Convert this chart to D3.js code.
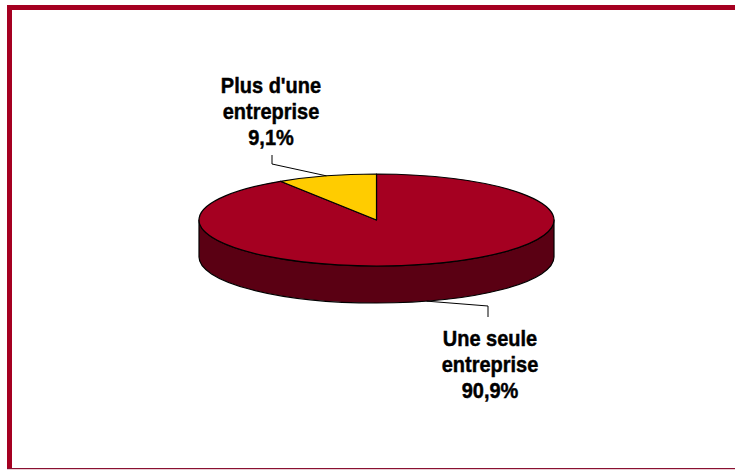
<!DOCTYPE html>
<html>
<head>
<meta charset="utf-8">
<script src="https://cdn.jsdelivr.net/npm/d3@7"></script>
<style>
  html, body { margin: 0; padding: 0; background: #fff; }
  svg { display: block; }
</style>
</head>
<body>
<svg id="chart" width="735" height="470"></svg>
<script>
// Share of respondents by number of companies
const categories = ["Une seule entreprise", "Plus d'une entreprise"];
const values = [90.9, 9.1];
const labelLines = [["Une seule", "entreprise", "90,9%"], ["Plus d'une", "entreprise", "9,1%"]];
const topColors = ["#A50021", "#FFCC00"];
const sideColors = ["#5A0013", "#B38F00"];

const svg = d3.select("#chart");
const W = 735, H = 470;
const frameColor = "#A50021";

// Frame: thick bars on the left and top, thin line at the bottom
svg.append("rect").attr("x", 7).attr("y", 5).attr("width", W - 7).attr("height", 5).attr("fill", frameColor);
svg.append("rect").attr("x", 7).attr("y", 5).attr("width", 5).attr("height", H - 6).attr("fill", frameColor);
svg.append("rect").attr("x", 7).attr("y", H - 2).attr("width", W - 7).attr("height", 1.2).attr("fill", "#8A1030");

// 3D pie geometry
const cx = 376.5, cy = 220, rx = 177.5, ry = 46, depth = 37;
const pt = (a, dy = 0) => [cx + rx * Math.sin(a), cy - ry * Math.cos(a) + dy];

const pie = d3.pie().sort(null).value(d => d);
const arcs = pie(values);

const g = svg.append("g");

// Side walls: only the front half (angles between PI/2 and 3PI/2) is visible
arcs.forEach((d, i) => {
  const a0 = Math.max(d.startAngle, Math.PI / 2);
  const a1 = Math.min(d.endAngle, 3 * Math.PI / 2);
  if (a1 <= a0) return;
  const p0 = pt(a0), p1 = pt(a1), q1 = pt(a1, depth), q0 = pt(a0, depth);
  const large = (a1 - a0) > Math.PI ? 1 : 0;
  const path = `M${p0}A${rx},${ry} 0 ${large} 1 ${p1}L${q1}A${rx},${ry} 0 ${large} 0 ${q0}Z`;
  g.append("path").attr("d", path)
    .attr("fill", sideColors[i]).attr("stroke", "#000").attr("stroke-width", 1.2)
    .attr("stroke-linejoin", "round");
});

// Top faces
arcs.forEach((d, i) => {
  const p0 = pt(d.startAngle), p1 = pt(d.endAngle);
  const large = (d.endAngle - d.startAngle) > Math.PI ? 1 : 0;
  const path = `M${cx},${cy}L${p0}A${rx},${ry} 0 ${large} 1 ${p1}Z`;
  g.append("path").attr("d", path)
    .attr("fill", topColors[i]).attr("stroke", "#000").attr("stroke-width", 1.2)
    .attr("stroke-linejoin", "round");
});

// Leader lines from slice mid-angles to labels
const mid = arcs.map(d => (d.startAngle + d.endAngle) / 2);
const redEnd = pt(mid[0], depth);
const yelEnd = pt(mid[1]);
const leaders = [
  [redEnd, [488, 306], [488, 317]],
  [yelEnd, [272, 164], [272, 155]]
];
leaders.forEach(pts => {
  g.append("path").attr("d", d3.line()(pts))
    .attr("fill", "none").attr("stroke", "#000").attr("stroke-width", 1);
});

// Labels
const labelPos = [[490, 346], [271, 93]];
const lineGap = 26;
labelLines.forEach((lines, i) => {
  const [lx, ly] = labelPos[i];
  lines.forEach((t, k) => {
    const by = ly + k * lineGap;
    svg.append("text")
      .attr("transform", `translate(${lx},${by}) scale(1,1.12)`)
      .attr("text-anchor", "middle")
      .attr("font-family", "'Liberation Sans', Arial, sans-serif")
      .attr("font-weight", "bold")
      .attr("font-size", 20)
      .attr("fill", "#000")
      .attr("stroke", "#000")
      .attr("stroke-width", 0.4)
      .text(t);
  });
});
</script>
</body>
</html>
